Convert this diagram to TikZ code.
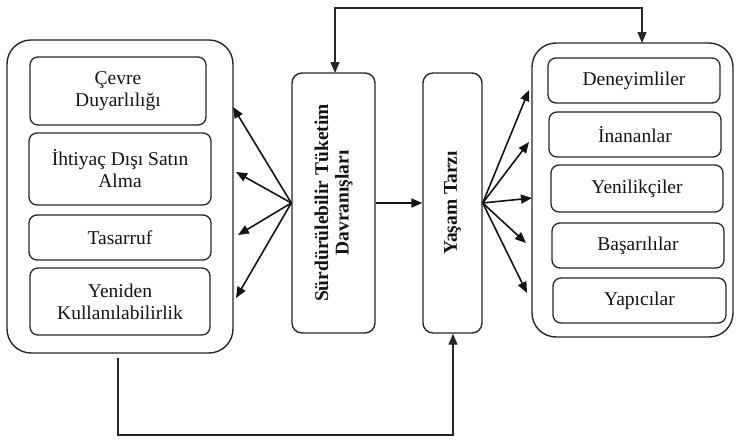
\documentclass[tikz,border=0pt]{standalone}
\usepackage{fontspec}
\setmainfont{Liberation Serif}
\usetikzlibrary{arrows.meta}

\tikzset{
  outerbox/.style={draw=black!85, line width=1.4pt, rounded corners=24pt, inner sep=0pt},
  innerbox/.style={draw=black!85, line width=1.3pt, rounded corners=8pt, align=center,
                   inner sep=0pt, font=\fontsize{19.5}{22}\selectfont, text=black!92},
  midbox/.style={draw=black!85, line width=1.4pt, rounded corners=10pt, inner sep=0pt},
  vlabel/.style={rotate=90, align=center, font=\bfseries\fontsize{19.5}{20.5}\selectfont, text=black!92},
  tip/.style={Triangle[length=11pt,width=9pt]},
  arr/.style={draw=black!92, line width=1.6pt, -{Triangle[length=11pt,width=9pt]}},
  link/.style={draw=black!85, line width=1.4pt}
}

\begin{document}
\begin{tikzpicture}[x=1pt,y=-1pt]
\useasboundingbox (0,0) rectangle (736,439);

% left group
\node[outerbox, minimum width=226pt, minimum height=313pt] (lbox) at (120,196.5) {};
\node[innerbox, minimum width=176pt, minimum height=68pt] (cevre) at (118,91) {Çevre\\Duyarlılığı};
\node[innerbox, minimum width=182pt, minimum height=72pt] (ihtiyac) at (120,169) {İhtiyaç Dışı Satın\\Alma};
\node[innerbox, minimum width=182pt, minimum height=45pt] (tasarruf) at (120,237.5) {Tasarruf};
\node[innerbox, minimum width=180pt, minimum height=67pt] (yeniden) at (120,301.5) {Yeniden\\Kullanılabilirlik};

% middle boxes
\node[midbox, minimum width=83pt, minimum height=260pt] (sur) at (333.5,203) {};
\node[vlabel] (surtext) at (sur.center) {Sürdürülebilir Tüketim\\Davranışları};
\node[midbox, minimum width=59pt, minimum height=260pt] (yasam) at (452.5,203) {};
\node[vlabel] (yasamtext) at (yasam.center) {Yaşam Tarzı};

% right group
\node[outerbox, minimum width=201pt, minimum height=294pt] (rbox) at (632.5,190) {};
\node[innerbox, minimum width=172pt, minimum height=45pt] (deney) at (634,80.5) {Deneyimliler};
\node[innerbox, minimum width=172pt, minimum height=45pt] (inan) at (635,134.5) {İnananlar};
\node[innerbox, minimum width=172pt, minimum height=47pt] (yenilik) at (637,188.5) {Yenilikçiler};
\node[innerbox, minimum width=172pt, minimum height=45pt] (basari) at (638,245.5) {Başarılılar};
\node[innerbox, minimum width=173pt, minimum height=45pt] (yapici) at (639.5,300.5) {Yapıcılar};

% arrow end points on the group frames
\coordinate (l1) at (233,107);
\coordinate (l2) at (236,172);
\coordinate (l3) at (238,235);
\coordinate (l4) at (236,298);
\coordinate (r1) at (529,90);
\coordinate (r2) at (529,142);
\coordinate (r3) at (532,198);
\coordinate (r4) at (526,243);
\coordinate (r5) at (527,293);

\foreach \p in {l1,l2,l3,l4} \draw[arr] (sur.west) -- (\p);
\draw[arr] (sur.east) -- (yasam.west);
\foreach \p in {r1,r2,r3,r4,r5} \draw[arr] (yasam.east) -- (\p);

% feedback loops
\coordinate (topR) at (642,43);
\coordinate (topL) at (335,73);
\draw[link, {Triangle[length=11pt,width=9pt]}-{Triangle[length=11pt,width=9pt]}]
  (topR) -- (642,8) -- (335,8) -- (topL);
\coordinate (botL) at (118,358);
\draw[link, -{Triangle[length=11pt,width=9pt]}] (botL) -- (118,435) -- (453,435) -- (yasam.south -| 453,0);
\end{tikzpicture}
\end{document}
